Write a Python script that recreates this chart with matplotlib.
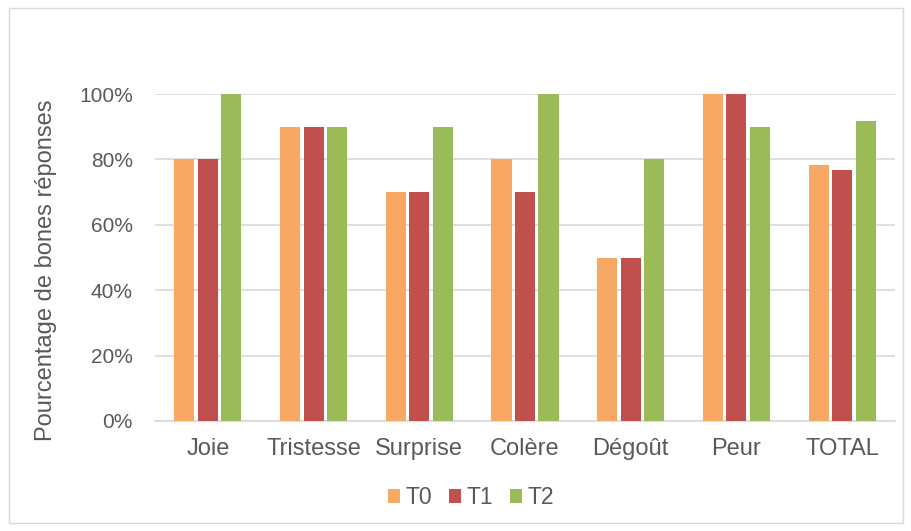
import matplotlib
matplotlib.use("Agg")
import matplotlib.pyplot as plt
import numpy as np
from matplotlib.patches import Rectangle

plt.rcParams['font.family'] = ['Liberation Sans', 'DejaVu Sans']

categories = ["Joie", "Tristesse", "Surprise", "Colère", "Dégoût", "Peur", "TOTAL"]
t0 = [0.80, 0.90, 0.70, 0.80, 0.50, 1.00, 0.783]
t1 = [0.80, 0.90, 0.70, 0.70, 0.50, 1.00, 0.767]
t2 = [1.00, 0.90, 0.90, 1.00, 0.80, 0.90, 0.917]
series_names = ["T0", "T1", "T2"]
colors = ["#F7A864", "#C0504D", "#9BBB59"]
yticks = [0, 0.2, 0.4, 0.6, 0.8, 1.0]
ytick_labels = ["0%", "20%", "40%", "60%", "80%", "100%"]

fig = plt.figure(figsize=(9.11, 5.31), dpi=100)
W, H = 911, 531
fig.patches.append(Rectangle((9 / W, 1 - 523 / H), (903 - 9) / W, (523 - 8) / H,
                             transform=fig.transFigure, fill=False,
                             edgecolor="#D9D9D9", linewidth=1.0))

ax = fig.add_axes([155 / W, 1 - 421 / H, (895 - 155) / W, (421 - 94) / H])
x = np.arange(len(categories))
step = 0.222
width = 0.19
for i, (vals, name, c) in enumerate(zip([t0, t1, t2], series_names, colors)):
    ax.bar(x + (i - 1) * step, vals, width, color=c, label=name, zorder=3)

ax.set_xlim(-0.5, len(categories) - 0.5)
ax.set_ylim(0, 1.0)
ax.set_yticks(yticks)
ax.set_yticklabels(ytick_labels)
ax.set_xticks(x)
ax.set_xticklabels(categories)
ax.tick_params(axis='both', length=0, colors="#595959")
ax.tick_params(axis='x', pad=12, labelsize=17)
ax.tick_params(axis='y', pad=16, labelsize=15)
ax.grid(axis='y', color="#D9D9D9", linewidth=1.2, zorder=0)
ax.set_axisbelow(True)
for s in ["top", "right", "left"]:
    ax.spines[s].set_visible(False)
ax.spines["bottom"].set_color("#D9D9D9")
ax.spines["bottom"].set_linewidth(1.2)

fig.text(46 / W, 1 - 270 / H, "Pourcentage de bones réponses", rotation=90,
         ha="center", va="center", fontsize=17, color="#595959")

leg = fig.legend(loc="center", bbox_to_anchor=(471 / W, 1 - 498 / H), ncol=3,
                 frameon=False, fontsize=16.5, handlelength=0.55, handleheight=0.55,
                 handletextpad=0.25, columnspacing=0.7, labelcolor="#595959")

fig.savefig("out.png", dpi=100)
